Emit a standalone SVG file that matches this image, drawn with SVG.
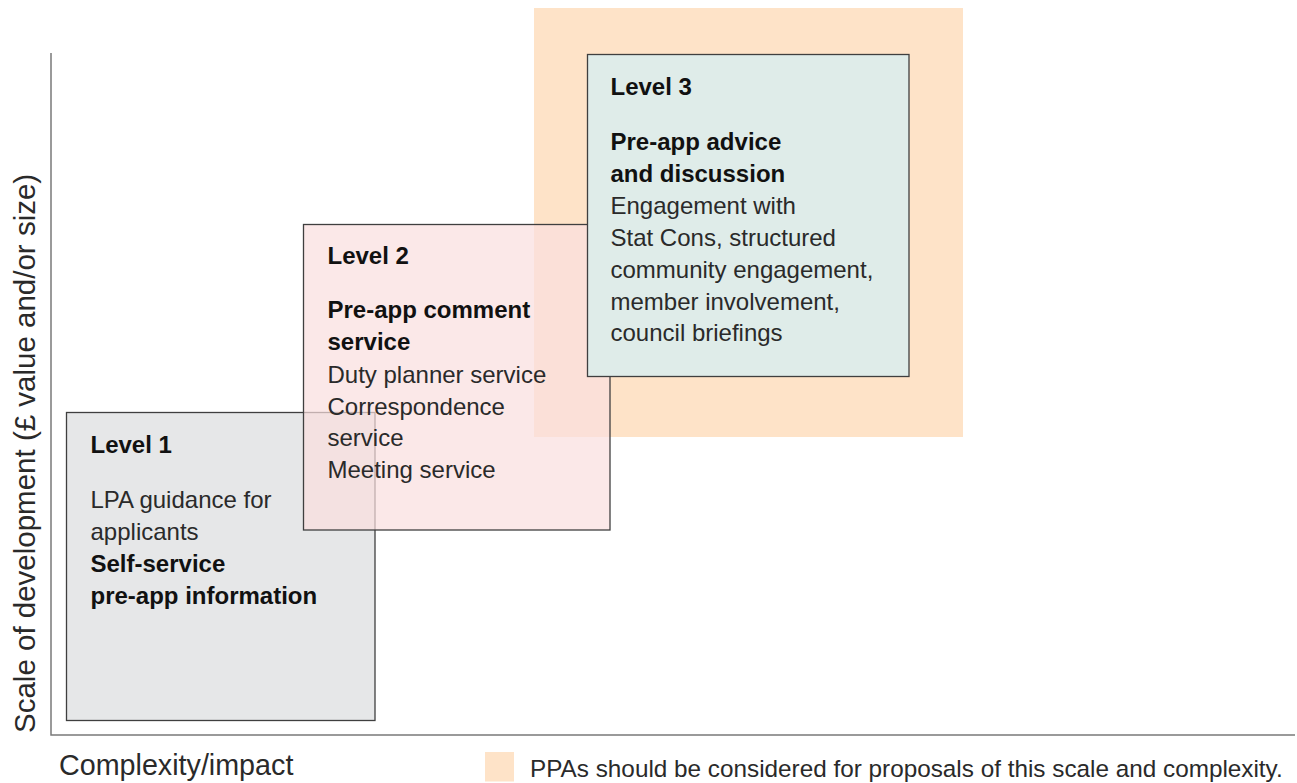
<svg xmlns="http://www.w3.org/2000/svg" width="1297" height="783" viewBox="0 0 1297 783">
  <style>
    text { font-family: "Liberation Sans", Arial, Helvetica, sans-serif; }
    .body { font-size: 24px; fill: #2a2a2a; }
    .bold { font-size: 24px; font-weight: bold; fill: #111111; }
    .axis { stroke: #7a7a7a; stroke-width: 1.5; fill: none; }
    .box { stroke: #3f3f3f; stroke-width: 1.3; }
    .axislabel { font-size: 29.5px; fill: #2a2a2a; }
  </style>
  <rect width="1297" height="783" fill="#ffffff"/>

  <g id="ppa-zone">
    <rect x="534" y="8" width="429" height="429" fill="#fee3c8"/>
  </g>

  <g id="axes">
    <polyline class="axis" points="51,53 51,735 1295,735"/>
  </g>

  <g id="level1">
    <rect class="box" x="66.5" y="412.5" width="308.5" height="308" fill="#e6e7e8"/>
    <text class="bold" x="90.5" y="453">Level 1</text>
    <text class="body" x="90.5" y="507.5">LPA guidance for</text>
    <text class="body" x="90.5" y="539.5">applicants</text>
    <text class="bold" x="90.5" y="571.5">Self-service</text>
    <text class="bold" x="90.5" y="603.5">pre-app information</text>
  </g>

  <g id="level2">
    <rect class="box" x="303.5" y="224.5" width="306.5" height="305.5" fill="#f9dede" fill-opacity="0.7"/>
    <text class="bold" x="327.5" y="264">Level 2</text>
    <text class="bold" x="327.5" y="318">Pre-app comment</text>
    <text class="bold" x="327.5" y="350">service</text>
    <text class="body" x="327.5" y="382.5">Duty planner service</text>
    <text class="body" x="327.5" y="414.5">Correspondence</text>
    <text class="body" x="327.5" y="446">service</text>
    <text class="body" x="327.5" y="478">Meeting service</text>
  </g>

  <g id="level3">
    <rect class="box" x="587.5" y="54.5" width="321.5" height="322" fill="#dfece9"/>
    <text class="bold" x="610.5" y="95">Level 3</text>
    <text class="bold" x="610.5" y="149.5">Pre-app advice</text>
    <text class="bold" x="610.5" y="181.5">and discussion</text>
    <text class="body" x="610.5" y="213.5">Engagement with</text>
    <text class="body" x="610.5" y="245.5">Stat Cons, structured</text>
    <text class="body" x="610.5" y="277.5">community engagement,</text>
    <text class="body" x="610.5" y="309.5">member involvement,</text>
    <text class="body" x="610.5" y="341">council briefings</text>
  </g>

  <g id="y-axis-label">
    <text class="axislabel" transform="translate(35,733) rotate(-90)">Scale of development (£ value and/or size)</text>
  </g>

  <g id="x-axis-label">
    <text class="axislabel" x="59" y="775" style="font-size:28.7px">Complexity/impact</text>
  </g>

  <g id="legend">
    <rect x="485" y="752" width="29" height="29.5" fill="#fee3c8"/>
    <text class="body" x="530" y="776.5" style="font-size:24.3px">PPAs should be considered for proposals of this scale and complexity.</text>
  </g>
</svg>
